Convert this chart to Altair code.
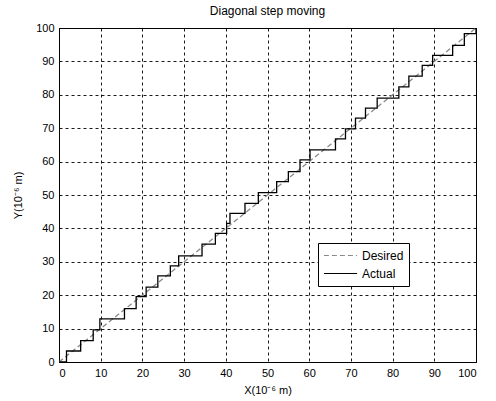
import altair as alt
import pandas as pd

# Actual staircase trajectory (corner points)
actual_x = [0, 1.8, 1.8, 5.2, 5.2, 8.2, 8.2, 9.8, 9.8, 15.7, 15.7, 18.5, 18.5, 20.9, 20.9,
            23.7, 23.7, 26.7, 26.7, 28.7, 28.7, 34.3, 34.3, 37.5, 37.5, 40.2, 40.2, 41.0, 41.0,
            44.6, 44.6, 47.8, 47.8, 52.2, 52.2, 55.0, 55.0, 57.8, 57.8, 60.2, 60.2, 66.3, 66.3,
            68.7, 68.7, 71.1, 71.1, 73.5, 73.5, 76.3, 76.3, 81.5, 81.5, 83.9, 83.9, 87.1, 87.1,
            89.6, 89.6, 94.4, 94.4, 97.2, 97.2, 100, 100]
actual_y = [0, 0, 3.3, 3.3, 6.4, 6.4, 9.6, 9.6, 12.9, 12.9, 16.0, 16.0, 19.6, 19.6, 22.4,
            22.4, 25.8, 25.8, 28.8, 28.8, 31.8, 31.8, 35.3, 35.3, 38.5, 38.5, 41.5, 41.5, 44.5,
            44.5, 47.5, 47.5, 50.7, 50.7, 54.0, 54.0, 57.0, 57.0, 60.5, 60.5, 63.5, 63.5, 66.8,
            66.8, 69.8, 69.8, 73.0, 73.0, 76.0, 76.0, 79.0, 79.0, 82.4, 82.4, 85.6, 85.6, 88.8,
            88.8, 91.8, 91.8, 94.8, 94.8, 98.3, 98.3, 100]
desired_x = [0, 100]
desired_y = [0, 100]
series_names = ["Desired", "Actual"]
ticks = list(range(0, 101, 10))

rows = []
for i, (x, y) in enumerate(zip(desired_x, desired_y)):
    rows.append({"x": x, "y": y, "series": "Desired", "idx": i})
for i, (x, y) in enumerate(zip(actual_x, actual_y)):
    rows.append({"x": x, "y": y, "series": "Actual", "idx": i})
df = pd.DataFrame(rows)

font = "Liberation Sans"

chart = alt.Chart(df).mark_line(strokeWidth=1.3).encode(
    x=alt.X("x:Q", scale=alt.Scale(domain=[0, 100], nice=False),
            axis=alt.Axis(values=ticks, title="X(10⁻⁶ m)")),
    y=alt.Y("y:Q", scale=alt.Scale(domain=[0, 100], nice=False),
            axis=alt.Axis(values=ticks, title="Y(10⁻⁶ m)")),
    order="idx:Q",
    color=alt.Color("series:N", scale=alt.Scale(domain=series_names, range=["#8a8a8a", "#000000"]),
                    legend=alt.Legend(title=None)),
    strokeDash=alt.StrokeDash("series:N", scale=alt.Scale(domain=series_names, range=[[5, 3], [1, 0]]),
                              legend=alt.Legend(title=None)),
).properties(
    width=417,
    height=334,
    title=alt.TitleParams("Diagonal step moving", font=font, fontSize=12, fontWeight="normal",
                          color="black", offset=4),
    autosize=alt.AutoSizeParams(type="none"),
    padding={"left": 59, "top": 28, "right": 20, "bottom": 39},
).configure_view(
    stroke="black", strokeWidth=1
).configure_axis(
    labelFont=font, labelFontSize=11, labelColor="black",
    titleFont=font, titleFontSize=11, titleColor="black", titleFontWeight="normal",
    domainColor="black", tickColor="black", tickSize=4, ticks=False,
    grid=True, gridColor="black", gridDash=[3, 3], gridOpacity=0.9, gridWidth=1,
    labelPadding=5,
).configure_axisX(
    titlePadding=6,
).configure_axisY(
    titlePadding=12,
).configure_legend(
    orient="none", legendX=259, legendY=215,
    fillColor="white", strokeColor="black", padding=5,
    symbolType="stroke", symbolSize=1100, symbolStrokeWidth=1.2,
    clipHeight=15, rowPadding=3,
    labelFont=font, labelFontSize=12, labelColor="black",
)

chart.save("out.html", embed_options={"renderer": "svg", "actions": False})
